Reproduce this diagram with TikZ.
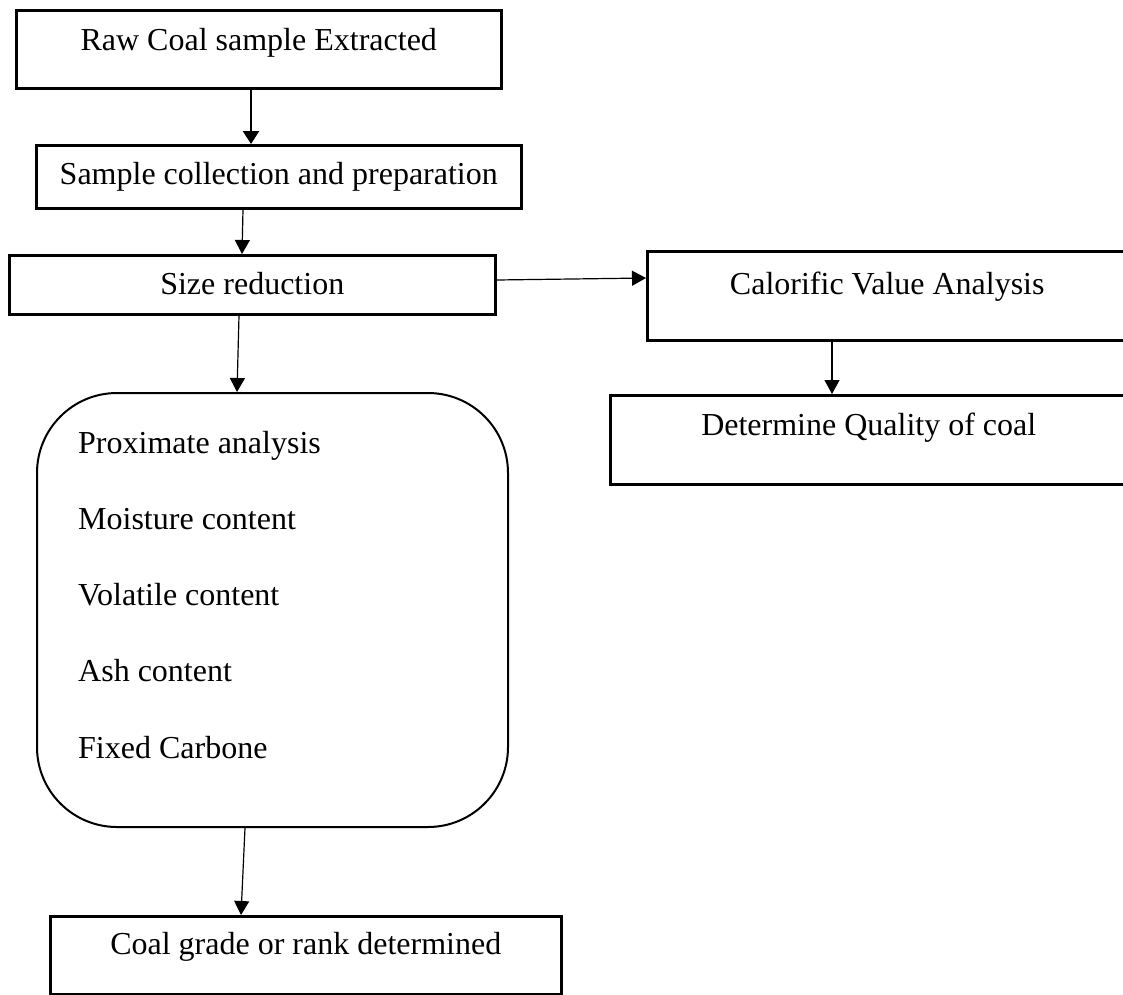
\documentclass[tikz,border=0pt]{standalone}
\usepackage{fontspec}
\setmainfont{Liberation Serif}
\usetikzlibrary{arrows.meta,calc}
\begin{document}
\begin{tikzpicture}[x=1pt,y=-1pt,
  every node/.style={font=\fontsize{32}{38}\selectfont},
  stepbox/.style={draw, line width=2.5pt, rectangle, inner sep=0pt, anchor=north west},
  roundbox/.style={draw, line width=2pt, rectangle, rounded corners=80pt, inner sep=0pt, anchor=north west},
  listtext/.style={inner sep=0pt, anchor=base west},
  thinarr/.style={line width=1.2pt, -{Triangle[length=14pt,width=15pt]}},
  thickarr/.style={line width=2.5pt, -{Triangle[length=13pt,width=16pt]}}
]
\useasboundingbox (0,0) rectangle (1123,994);

\node[stepbox, minimum width=485pt, text height=40pt, text depth=38pt] (raw) at (15,9) {Raw Coal sample Extracted};
\node[stepbox, minimum width=485pt, text height=39pt, text depth=24pt] (prep) at (35,144) {Sample collection and preparation};
\node[stepbox, minimum width=486pt, text height=39pt, text depth=20pt] (size) at (8,254) {Size reduction};
\node[stepbox, minimum width=480pt, text height=43pt, text depth=46pt] (calor) at (646,250) {Calorific Value Analysis};
\node[stepbox, minimum width=517pt, text height=40pt, text depth=49pt] (quality) at (609,394) {Determine Quality of coal};
\node[roundbox, minimum width=471pt, minimum height=434pt] (prox) at (36,392) {};
\foreach \t [count=\i] in {Proximate analysis, Moisture content, Volatile content, Ash content, Fixed Carbone}
  \node[listtext] (p\i) at (78, {453+76.25*(\i-1)}) {\t};
\node[stepbox, minimum width=511pt, text height=38pt, text depth=40pt] (grade) at (49,915) {Coal grade or rank determined};

\draw[thickarr] ($(raw.south west)+(236,0)$) -- ($(prep.north west)+(216,0)$);
\draw[thinarr] ($(prep.south west)+(208,0)$) -- ($(size.north west)+(234,0)$);
\draw[thinarr] ($(size.south west)+(231,0)$) -- ($(prox.north west)+(201,0)$);
\draw[thinarr] ($(size.north east)+(0,26)$) -- ($(calor.north west)+(0,28)$);
\draw[thinarr] ($(calor.south west)+(186,0)$) -- ($(quality.north west)+(223,0)$);
\draw[thinarr] ($(prox.south west)+(209,0)$) -- ($(grade.north west)+(192,0)$);
\end{tikzpicture}
\end{document}
